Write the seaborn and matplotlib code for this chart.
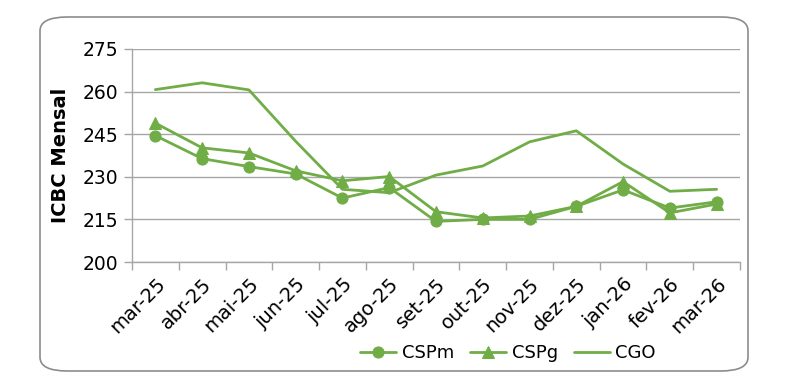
import pandas as pd
import matplotlib
matplotlib.use("Agg")
import matplotlib.pyplot as plt
import seaborn as sns
from matplotlib.patches import FancyBboxPatch
from matplotlib.ticker import FixedLocator

# Dados
meses = ["mar-25", "abr-25", "mai-25", "jun-25", "jul-25", "ago-25", "set-25",
         "out-25", "nov-25", "dez-25", "jan-26", "fev-26", "mar-26"]
cspm = [244.5, 236.4, 233.6, 231.0, 222.5, 226.2, 214.3, 215.0, 215.0, 219.6, 225.4, 219.0, 221.2]
cspg = [248.9, 240.2, 238.4, 232.1, 228.6, 230.1, 217.7, 215.5, 216.2, 219.6, 228.3, 217.3, 220.4]
cgo = [260.7, 263.1, 260.6, 242.5, 225.6, 224.4, 230.6, 233.8, 242.3, 246.2, 234.5, 224.9, 225.6]

verde = "#70AD47"
cinza = "#A6A6A6"

sns.set_theme(style="white")
plt.rcParams["font.family"] = ["DejaVu Sans"]
plt.rcParams["text.color"] = "black"
plt.rcParams["axes.labelcolor"] = "black"
plt.rcParams["xtick.color"] = "black"
plt.rcParams["ytick.color"] = "black"

fig = plt.figure(figsize=(7.87, 3.91), dpi=100)
ax = fig.add_axes([132 / 787, 1 - 262 / 391, (740 - 132) / 787, (262 - 49) / 391])

# Moldura arredondada
moldura = FancyBboxPatch((40 / 787, 1 - 371 / 391), (748 - 40) / 787, (371 - 17) / 391,
                         boxstyle="round,pad=0,rounding_size=0.035", transform=fig.transFigure,
                         facecolor="none", edgecolor="#8C8C8C", linewidth=1.2, zorder=0)
fig.patches.append(moldura)

df = pd.DataFrame({"mes": meses, "CSPm": cspm, "CSPg": cspg, "CGO": cgo})
sns.lineplot(data=df, x="mes", y="CSPm", ax=ax, color=verde, marker="o", markersize=8,
             markeredgecolor=verde, linewidth=2, label="CSPm")
sns.lineplot(data=df, x="mes", y="CSPg", ax=ax, color=verde, marker="^", markersize=9,
             markeredgecolor=verde, linewidth=2, label="CSPg")
sns.lineplot(data=df, x="mes", y="CGO", ax=ax, color=verde, linewidth=2, label="CGO")

ax.set_ylim(200, 275)
ax.set_yticks([200, 215, 230, 245, 260, 275])
ax.set_xlim(-0.5, len(meses) - 0.5)
ax.set_xticks(range(len(meses)))
ax.set_xticklabels(meses, rotation=45, ha="right", rotation_mode="anchor", fontsize=14)
ax.xaxis.set_minor_locator(FixedLocator([i - 0.5 for i in range(len(meses) + 1)]))
ax.tick_params(axis="x", which="major", length=0, pad=9, colors="black")
ax.tick_params(axis="x", which="minor", length=6, color=cinza, width=1, bottom=True)
ax.tick_params(axis="y", length=6, color=cinza, labelcolor="black", width=1, left=True,
               labelsize=13.5, pad=4)

ax.grid(axis="y", color=cinza, linewidth=1)
ax.grid(axis="x", visible=False)
for lado in ["top", "right"]:
    ax.spines[lado].set_visible(False)
for lado in ["left", "bottom"]:
    ax.spines[lado].set_color(cinza)
    ax.spines[lado].set_linewidth(1)

ax.set_xlabel("")
ax.set_ylabel("ICBC Mensal", fontsize=14, fontweight="bold", labelpad=9, color="black")

ax.legend(loc="center", bbox_to_anchor=(508 / 787, 1 - 353 / 391), bbox_transform=fig.transFigure,
          ncol=3, frameon=False, fontsize=13, handlelength=2.0, columnspacing=0.9,
          handletextpad=0.3, labelcolor="black")

fig.savefig("out.png", dpi=100)
